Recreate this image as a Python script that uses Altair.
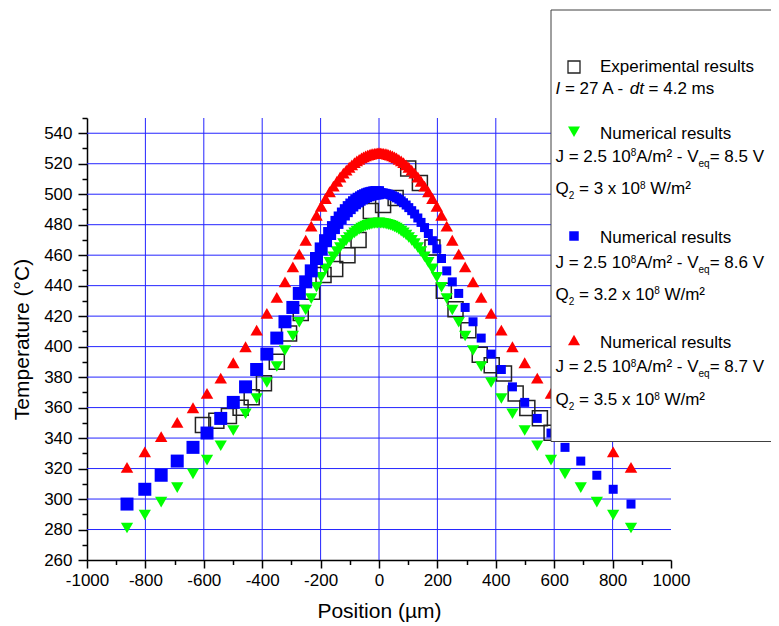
import altair as alt
import pandas as pd

# ---------------- data ----------------
X_MESH = [-863, -802, -746, -691, -637, -589, -542, -499, -457, -419, -384, -350, -322, -295,
          -273, -251, -232, -214, -198, -183, -169, -156, -144, -133, -122, -112, -102, -93,
          -84, -76, -68, -60, -53, -46, -39, -33, -27, -21, -15, -10, -5, 0,
          5, 10, 15, 21, 27, 33, 39, 46, 53, 60, 68, 76, 84, 93, 102, 112, 122, 133, 144,
          156, 169, 183, 198, 214, 232, 251, 273, 295, 322, 350, 384, 419, 457, 499, 542,
          589, 637, 691, 746, 802, 863]

T_GREEN = [281, 289.5, 298, 307.5, 316.5, 325.5, 335, 345, 356, 366, 376.5, 387, 397.5, 407,
           416, 424, 431.5, 439, 445.5, 451, 455.3, 459, 462.3, 465, 467.6, 469.7, 471.6, 473.2,
           474.6, 475.8, 476.8, 477.8, 478.5, 479.1, 479.6, 480, 480.3, 480.6, 480.8, 480.9, 481,
           481.2,
           481, 480.9, 480.8, 480.6, 480.3, 480, 479.6, 479.1, 478.5, 477.8, 476.8, 475.8, 474.6,
           473.2, 471.6, 469.7, 467.6, 465, 462.3, 459, 455.3, 451, 445.5, 439, 431.5, 424, 416,
           407, 397.5, 387, 376.5, 366, 356, 345, 335, 325.5, 316.5, 307.5, 298, 289.5, 281]

T_BLUE = [296.7, 306.4, 315.6, 324.9, 333.9, 343.3, 352.9, 363.4, 373.6, 385, 395.1, 405.6, 416.3,
          425.7, 434.9, 442.5, 449.7, 457.8, 464.1, 469.5, 474.2, 478.1, 481.5, 484.4, 487, 489.2,
          491.2, 492.9, 494.4, 495.6, 496.7, 497.6, 498.4, 499, 499.6, 500, 500.3, 500.6, 500.8,
          500.9, 501,
          501.2,
          501, 500.9, 500.8, 500.6, 500.3, 500, 499.6, 499, 498.4, 497.6, 496.7, 495.6, 494.4,
          492.9, 491.2, 489.2, 487, 484.4, 481.5, 478.1, 474.2, 469.5, 464.1, 457.8, 449.7, 442.5,
          434.9, 425.7, 416.3, 405.6, 395.1, 385, 373.6, 363.4, 352.9, 343.3, 333.9, 324.9, 315.6,
          306.4, 296.7]

T_RED = [320.8, 331, 340.9, 350.3, 359.9, 369.3, 379.3, 389.4, 399.9, 410.8, 421.8, 432.3, 442.5,
         452.3, 460.7, 469.8, 479.1, 486.2, 492.1, 497.2, 501.6, 505.3, 508.5, 511.3, 513.8, 515.8,
         517.7, 519.3, 520.7, 521.9, 522.9, 523.8, 524.5, 525.1, 525.6, 526, 526.4, 526.6, 526.8,
         526.9, 527,
         527.3,
         527, 526.9, 526.8, 526.6, 526.4, 526, 525.6, 525.1, 524.5, 523.8, 522.9, 521.9, 520.7,
         519.3, 517.7, 515.8, 513.8, 511.3, 508.5, 505.3, 501.6, 497.2, 492.1, 486.2, 479.1, 469.8,
         460.7, 452.3, 442.5, 432.3, 421.8, 410.8, 399.9, 389.4, 379.3, 369.3, 359.9, 350.3, 340.9,
         331, 320.8]

EXP_X = [-603, -557, -514, -474, -436, -394, -350, -308, -268, -229, -190, -150, -108, -70, -28,
         14, 57, 100, 140, 183, 222, 262, 306, 345, 386, 428, 468, 508, 551, 591]
EXP_T = [348.5, 351.3, 354.4, 359.9, 366.7, 375.9, 390, 408.6, 422, 436, 447, 451, 460, 470, 489,
         493, 497.5, 516.8, 507.4, 465, 436.6, 424.5, 410.8, 394.6, 387.7, 382.4, 369.3, 359.7,
         353, 343.5]

X_TICKS = [-1000, -800, -600, -400, -200, 0, 200, 400, 600, 800, 1000]
X_MINOR = [-900, -700, -500, -300, -100, 100, 300, 500, 700, 900]
Y_TICKS = [260, 280, 300, 320, 340, 360, 380, 400, 420, 440, 460, 480, 500, 520, 540]
Y_MINOR = [270, 290, 310, 330, 350, 370, 390, 410, 430, 450, 470, 490, 510, 530, 550]
X_GRID = [-800, -600, -400, -200, 0, 200, 400, 600, 800]
Y_GRID = [280, 300, 320, 340, 360, 380, 400, 420, 440, 460, 480, 500, 520, 540]

X_TITLE = "Position (µm)"
Y_TITLE = "Temperature (°C)"

LEG_EXP = [("Experimental results", "n")]
LEG_EXP2 = [("I", "i"), (" = 27 A - ", "n"), ("dt", "i"), (" = 4.2 ms", "n")]
LEG_NUM = [("Numerical results", "n")]
LEG_J = [[("J = 2.5 10", "n"), ("8", "sup"), ("A/m² - V", "n"), ("eq", "sub"), ("= 8.5 V", "n")],
         [("J = 2.5 10", "n"), ("8", "sup"), ("A/m² - V", "n"), ("eq", "sub"), ("= 8.6 V", "n")],
         [("J = 2.5 10", "n"), ("8", "sup"), ("A/m² - V", "n"), ("eq", "sub"), ("= 8.7 V", "n")]]
LEG_Q = [[("Q", "n"), ("2", "sub"), (" = 3 x 10", "n"), ("8", "sup"), (" W/m²", "n")],
         [("Q", "n"), ("2", "sub"), (" = 3.2 x 10", "n"), ("8", "sup"), (" W/m²", "n")],
         [("Q", "n"), ("2", "sub"), (" = 3.5 x 10", "n"), ("8", "sup"), (" W/m²", "n")]]

# ---------------- style ----------------
FONT = "Liberation Sans"
GRID = "#2424ff"
GREEN = "#00ff00"
BLUE = "#0000ff"
RED = "#ff0000"
FS = 17
FS_SMALL = 10
DY = {"n": 0, "i": 0, "sup": -5.5, "sub": 5}

ARIAL = {" ": 278, "=": 584, "-": 333, ".": 278, "/": 278, "x": 500, "A": 667, "J": 500,
         "Q": 778, "V": 667, "W": 944, "I": 278, "d": 556, "t": 278, "m": 833, "s": 500,
         "e": 556, "q": 556, "²": 333, "E": 667, "p": 556, "r": 333, "i": 222, "n": 556,
         "a": 556, "l": 222, "u": 556, "N": 722, "c": 500}


def tw(s, fs):
    return sum(ARIAL.get(ch, 556) for ch in s) * fs / 1000.0


rows = []


def add_line(segments, x0, y0):
    x = x0
    for text, kind in segments:
        fs = FS_SMALL if kind in ("sup", "sub") else FS
        lead = len(text) - len(text.lstrip(" "))
        rows.append(dict(text=text.strip(" "), px=x + tw(" " * lead, fs), py=y0 + DY[kind], kind=kind))
        x += tw(text, fs)


XL = 468.5   # left text column (chart px)
XS = 487     # symbol column
XT = 513     # text after symbol
add_line(LEG_EXP, XT, -45.7)
add_line(LEG_EXP2, XL, -23.7)
num_y = [20.5, 125.3, 230]
j_y = [43.5, 150.3, 254.3]
q_y = [76, 181.5, 287]
for k in range(3):
    add_line(LEG_NUM, XT, num_y[k])
    add_line(LEG_J[k], XL, j_y[k])
    add_line(LEG_Q[k], XL, q_y[k])
leg_df = pd.DataFrame(rows)

xs = alt.Scale(domain=[-1000, 1000], nice=False, zero=False)
ys = alt.Scale(domain=[260, 550], nice=False, zero=False)

axis_common = dict(labelFont=FONT, labelFontSize=17, labelColor="black", titleFont=FONT,
                   titleFontSize=21, titleFontWeight="normal", titleColor="black",
                   domainColor="black", domainWidth=1.5, tickColor="black", tickWidth=1.5,
                   grid=False, labelOverlap=False, labelFlush=False,
                   labelExpr="'' + datum.value")

vgrid = alt.Chart(pd.DataFrame({"g": X_GRID})).mark_rule(color=GRID, strokeWidth=1).encode(
    x=alt.X("g:Q", scale=xs, axis=alt.Axis(orient="bottom", values=X_TICKS, title=X_TITLE,
                                           tickSize=8, labelPadding=4, titlePadding=12,
                                           **axis_common)))
hgrid = alt.Chart(pd.DataFrame({"g": Y_GRID})).mark_rule(color=GRID, strokeWidth=1).encode(
    y=alt.Y("g:Q", scale=ys, axis=alt.Axis(orient="left", values=Y_TICKS, title=Y_TITLE,
                                           tickSize=9, labelPadding=6, titlePadding=11,
                                           **axis_common)))

minor = alt.Chart(pd.DataFrame({"x": EXP_X, "t": EXP_T})).mark_point(opacity=0).encode(
    x=alt.X("x:Q", scale=xs, axis=alt.Axis(orient="bottom", values=X_MINOR, title=None, labels=False,
                                           domain=False, grid=False, tickSize=4.5, tickWidth=1.5,
                                           tickColor="black")),
    y=alt.Y("t:Q", scale=ys, axis=alt.Axis(orient="left", values=Y_MINOR, title=None, labels=False,
                                           domain=False, grid=False, tickSize=5, tickWidth=1.5,
                                           tickColor="black")))

exp = alt.Chart(pd.DataFrame({"x": EXP_X, "t": EXP_T})).mark_point(
    shape="square", size=225, filled=False, stroke="#222222", strokeWidth=1.5, opacity=1).encode(
    x=alt.X("x:Q", scale=xs, axis=None), y=alt.Y("t:Q", scale=ys, axis=None))

num_df = pd.DataFrame({"x": X_MESH, "green": T_GREEN, "blue": T_BLUE, "red": T_RED})

green = alt.Chart(num_df).mark_point(shape="triangle-down", size=150, filled=True, color=GREEN,
                                     opacity=1).encode(
    x=alt.X("x:Q", scale=xs, axis=None), y=alt.Y("green:Q", scale=ys, axis=None))
blue_l = alt.Chart(num_df).transform_filter(alt.datum.x < 0).mark_point(
    shape="square", size=169, filled=True, color=BLUE, opacity=1).encode(
    x=alt.X("x:Q", scale=xs, axis=None), y=alt.Y("blue:Q", scale=ys, axis=None))
blue_r = alt.Chart(num_df).transform_filter(alt.datum.x >= 0).mark_point(
    shape="square", size=81, filled=True, color=BLUE, opacity=1).encode(
    x=alt.X("x:Q", scale=xs, axis=None), y=alt.Y("blue:Q", scale=ys, axis=None))
red = alt.Chart(num_df).mark_point(shape="triangle-up", size=156, filled=True, color=RED,
                                   opacity=1).encode(
    x=alt.X("x:Q", scale=xs, axis=None), y=alt.Y("red:Q", scale=ys, axis=None))

one = pd.DataFrame({"a": [0]})
leg_box = alt.Chart(one).mark_rect(fill="white", stroke="#404040", strokeWidth=1).encode(
    x=alt.value(464), x2=alt.value(720), y=alt.value(-108), y2=alt.value(323.5))
sym_exp = alt.Chart(one).mark_point(shape="square", size=144, filled=False, stroke="#222222",
                                    strokeWidth=1.3, opacity=1).encode(
    x=alt.value(XS), y=alt.value(-51))
sym_g = alt.Chart(one).mark_point(shape="triangle-down", size=144, filled=True, color=GREEN,
                                  opacity=1).encode(x=alt.value(XS), y=alt.value(13.7))
sym_b = alt.Chart(one).mark_point(shape="square", size=90, filled=True, color=BLUE,
                                  opacity=1).encode(x=alt.value(XS), y=alt.value(118))
sym_r = alt.Chart(one).mark_point(shape="triangle-up", size=144, filled=True, color=RED,
                                  opacity=1).encode(x=alt.value(XS), y=alt.value(222))


def text_layer(kind, fs, style="normal"):
    return alt.Chart(leg_df).transform_filter(alt.datum.kind == kind).mark_text(
        align="left", baseline="alphabetic", font=FONT, fontSize=fs, fontStyle=style,
        color="black").encode(
        x=alt.X("px:Q", scale=None, axis=None), y=alt.Y("py:Q", scale=None, axis=None),
        text="text:N")


t_n = text_layer("n", FS)
t_i = text_layer("i", FS, "italic")
t_sup = text_layer("sup", FS_SMALL)
t_sub = text_layer("sub", FS_SMALL)

chart = alt.layer(
    vgrid, hgrid, minor, exp, green, blue_l, blue_r, red,
    leg_box, sym_exp, sym_g, sym_b, sym_r, t_n, t_i, t_sup, t_sub
).resolve_axis(x="independent", y="independent").properties(
    width=584, height=442,
    autosize=alt.AutoSizeParams(type="none"),
    padding={"left": 79, "top": 110, "right": 100, "bottom": 64},
    background="white",
).configure_view(stroke=None)

chart.save("out.html", embed_options={"renderer": "svg", "actions": False})
